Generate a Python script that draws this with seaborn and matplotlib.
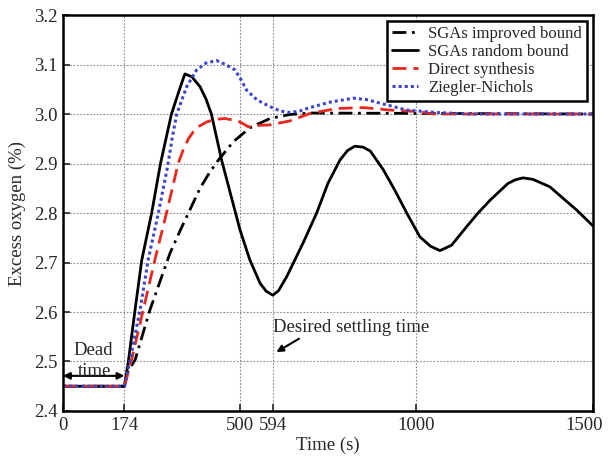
import matplotlib
matplotlib.use("Agg")
import matplotlib.pyplot as plt
import matplotlib.transforms as mtransforms
import seaborn as sns

# Time (s) / excess oxygen (%)
t_improved = [0, 174, 180, 204, 246, 303, 330, 355, 388, 415, 440, 482, 529, 586, 642, 700, 1500]
y_improved = [2.45, 2.45, 2.476, 2.503, 2.604, 2.719, 2.762, 2.80, 2.85, 2.882, 2.907, 2.944, 2.972,
              2.991, 2.999, 3.002, 3.0]

t_random = [0, 174, 185, 205, 223, 251, 276, 307, 330, 345, 365, 388, 405, 420, 449, 470, 501, 529,
            558, 575, 594, 610, 633, 680, 718, 750, 784, 805, 826, 850, 870, 907, 940, 973, 1010,
            1040, 1067, 1100, 1142, 1175, 1209, 1260, 1280, 1302, 1330, 1378, 1415, 1454, 1500]
y_random = [2.45, 2.45, 2.50, 2.61, 2.705, 2.80, 2.90, 3.00, 3.05, 3.081, 3.075, 3.055, 3.03, 3.00,
            2.907, 2.85, 2.766, 2.705, 2.658, 2.642, 2.634, 2.643, 2.671, 2.74, 2.80, 2.86, 2.907,
            2.926, 2.935, 2.933, 2.925, 2.887, 2.845, 2.80, 2.752, 2.733, 2.724, 2.735, 2.772, 2.80,
            2.826, 2.86, 2.867, 2.871, 2.868, 2.853, 2.83, 2.806, 2.774]

t_direct = [0, 174, 194, 227, 260, 293, 326, 340, 355, 369, 385, 407, 430, 458, 480, 501, 525, 550,
            586, 642, 699, 775, 850, 925, 1001, 1050, 1500]
y_direct = [2.45, 2.45, 2.503, 2.604, 2.705, 2.80, 2.90, 2.927, 2.95, 2.964, 2.975, 2.984, 2.989,
            2.991, 2.988, 2.984, 2.974, 2.977, 2.978, 2.986, 3.001, 3.011, 3.013, 3.008, 3.005, 3.0,
            3.0]

t_zn = [0, 174, 190, 218, 241, 270, 295, 310, 322, 350, 378, 405, 435, 460, 487, 505, 520, 550, 586,
        615, 642, 670, 699, 756, 822, 860, 897, 973, 1057, 1150, 1500]
y_zn = [2.45, 2.45, 2.503, 2.604, 2.705, 2.80, 2.89, 2.955, 3.0, 3.055, 3.089, 3.103, 3.108, 3.10,
        3.089, 3.068, 3.048, 3.028, 3.015, 3.006, 3.003, 3.006, 3.013, 3.024, 3.032, 3.029, 3.022,
        3.008, 3.003, 3.0, 3.0]

x_ticks = [0, 174, 500, 594, 1000, 1500]
y_ticks = [2.4, 2.5, 2.6, 2.7, 2.8, 2.9, 3.0, 3.1, 3.2]

sns.set_style("ticks")
plt.rcParams['font.family'] = ['Liberation Serif', 'DejaVu Serif']

fig = plt.figure(figsize=(6.08, 4.62), dpi=100)
ax = fig.add_axes([0.1036, 0.1104, 0.8716, 0.8571])

blue = "#3c46c8"
red = "#e8281e"

sns.lineplot(x=t_improved, y=y_improved, ax=ax, color="black", lw=2.0,
             linestyle=(0, (5, 2, 1, 2)), label="SGAs improved bound", sort=False)
sns.lineplot(x=t_random, y=y_random, ax=ax, color="black", lw=2.0,
             linestyle="-", label="SGAs random bound", sort=False)
sns.lineplot(x=t_direct, y=y_direct, ax=ax, color=red, lw=2.0,
             linestyle=(0, (5, 2.5)), label="Direct synthesis", sort=False)
sns.lineplot(x=t_zn, y=y_zn, ax=ax, color=blue, lw=2.2,
             linestyle=(0, (1, 1)), label="Ziegler-Nichols", sort=False)

ax.set_xlim(0, 1500)
ax.set_ylim(2.4, 3.2)
ax.set_xticks(x_ticks)
ax.set_yticks(y_ticks)
ax.set_yticklabels([f"{v:.1f}" for v in y_ticks])
ax.grid(True, color="#8a8a8a", linestyle=(0, (1.5, 1.5)), lw=0.8)
ax.tick_params(direction="in", length=5, width=1.2, labelsize=13.5, pad=4)
for s in ax.spines.values():
    s.set_linewidth(1.8)
    s.set_color("black")

# keep the last x label inside the figure
last = ax.get_xticklabels()[-1]
last.set_transform(last.get_transform() +
                   mtransforms.ScaledTranslation(-6 / 72, 0, fig.dpi_scale_trans))

ax.set_xlabel("Time (s)", fontsize=13.5, labelpad=2)
ax.set_ylabel("Excess oxygen (%)", fontsize=13.5, labelpad=6)

# Dead time annotation
ax.annotate("", xy=(0, 2.471), xytext=(174, 2.471),
            arrowprops=dict(arrowstyle="<|-|>", color="black", lw=1.5,
                            mutation_scale=10, shrinkA=0, shrinkB=0))
ax.text(85, 2.522, "Dead", fontsize=13.5, ha="center", va="center")
ax.text(89, 2.48, "time", fontsize=13.5, ha="center", va="center")

# Desired settling time annotation
ax.text(594, 2.568, "Desired settling time", fontsize=13.5, ha="left", va="center")
ax.annotate("", xy=(604, 2.519), xytext=(668, 2.546),
            arrowprops=dict(arrowstyle="-|>", color="black", lw=1.5,
                            mutation_scale=10, shrinkA=0, shrinkB=0))

leg = ax.legend(loc="upper right", fontsize=12, frameon=True, fancybox=False,
                handlelength=1.6, handletextpad=0.6, labelspacing=0.12,
                borderpad=0.3, borderaxespad=0.35)
leg.get_frame().set_edgecolor("black")
leg.get_frame().set_linewidth(1.8)
leg.get_frame().set_alpha(1)

fig.savefig("out.png", dpi=100)
